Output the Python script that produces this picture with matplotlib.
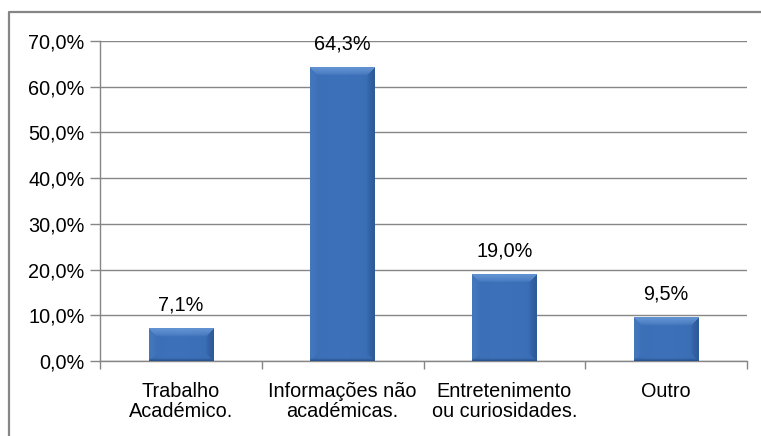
import numpy as np
import matplotlib
matplotlib.use("Agg")
import matplotlib.pyplot as plt
from matplotlib.lines import Line2D
from matplotlib.ticker import FuncFormatter, FixedLocator

# ── Data ──────────────────────────────────────────────────────────────────
CATEGORIES = ["Trabalho\nAcadémico.", "Informações não\nacadémicas.",
              "Entretenimento\nou curiosidades.", "Outro"]
VALUES = [7.1, 64.3, 19.0, 9.5]
Y_TICKS = [0, 10, 20, 30, 40, 50, 60, 70]

GRID = "#868686"
BASE = np.array([0x3A, 0x6D, 0xB3]) / 255
LIGHT = np.array([0x7A, 0xA8, 0xE2]) / 255
DARK = np.array([0x20, 0x44, 0x7A]) / 255
FS = 14.3

plt.rcParams["font.family"] = ["Liberation Sans", "DejaVu Sans"]

W, H, DPI = 761, 436, 100
fig = plt.figure(figsize=(W / DPI, H / DPI), dpi=DPI)

# outer chart frame (cropped at right and bottom)
fig.add_artist(Line2D([9 / W, 9 / W, 1], [0, 1 - 12 / H, 1 - 12 / H],
                      transform=fig.transFigure, color=GRID, lw=1.6))

ax = fig.add_axes([100 / W, (H - 361) / H, 647 / W, 320 / H])
ax.set_xlim(-0.5, len(CATEGORIES) - 0.5)
ax.set_ylim(0, 70)

ax.yaxis.set_major_locator(FixedLocator(Y_TICKS))
ax.yaxis.set_major_formatter(
    FuncFormatter(lambda v, _: f"{v:.1f}%".replace(".", ",")))
ax.grid(axis="y", color=GRID, lw=1.0)
ax.set_axisbelow(True)

ax.set_xticks(range(len(CATEGORIES)))
ax.set_xticklabels(CATEGORIES, fontsize=FS, color="black", linespacing=1.1)
ax.xaxis.set_minor_locator(FixedLocator(np.arange(-0.5, len(CATEGORIES), 1.0)))
ax.tick_params(axis="x", which="major", length=0, pad=15)
ax.tick_params(axis="x", which="minor", length=6, color=GRID, width=1.0)
ax.tick_params(axis="y", length=7, color=GRID, width=1.0, labelsize=FS,
               labelcolor="black", pad=4)

for s in ["top", "right"]:
    ax.spines[s].set_visible(False)
for s in ["left", "bottom"]:
    ax.spines[s].set_color(GRID)
    ax.spines[s].set_linewidth(1.0)

# ── Bevelled bars ─────────────────────────────────────────────────────────
bar_w = 0.4
bars = ax.bar(range(len(VALUES)), VALUES, width=bar_w, color="none",
              edgecolor="none", zorder=3)

px_per_x = 647 / len(CATEGORIES)
px_per_y = 320 / 70
for rect, v in zip(bars, VALUES):
    nx = int(round(bar_w * px_per_x))
    ny = max(int(round(v * px_per_y)), 2)
    xx = np.arange(nx)[None, :] + 0.5 + np.zeros((ny, 1))
    yy = np.arange(ny)[:, None] + 0.5 + np.zeros((1, nx))  # row 0 = top
    bev = 7.0
    dt, dl, dr, db = yy, xx, nx - xx, ny - yy
    dmin = np.minimum.reduce([dt, dl, dr, db])
    fall = np.clip(1.15 - dmin / bev, 0, 1) ** 0.6
    top = np.where(dt == dmin, fall, 0.0)
    left = np.where((dl == dmin) & (dt != dmin), fall, 0.0)
    right = np.where((dr == dmin) & (dt != dmin), fall, 0.0)
    bottom = np.clip(1 - db / 3.0, 0, 1)
    shade = 1.0 + 0.04 * np.cos((xx / nx - 0.45) * np.pi)
    img = np.tile(BASE, (ny, nx, 1)) * shade[..., None]
    img = img + (LIGHT - img) * (top * 0.6 + left * 0.15)[..., None]
    img = img + (DARK - img) * np.maximum(right * 0.45, bottom * 0.75)[..., None]
    img = np.clip(img, 0, 1)
    x0 = rect.get_x()
    ax.imshow(img, extent=[x0, x0 + rect.get_width(), 0, v], aspect="auto",
              interpolation="bilinear", zorder=3)
    ax.annotate(f"{v:.1f}%".replace(".", ","), (rect.get_x() + bar_w / 2, v),
                xytext=(0, 10), textcoords="offset points", ha="center",
                va="bottom", fontsize=FS, color="black")

ax.set_xlim(-0.5, len(CATEGORIES) - 0.5)
ax.set_ylim(0, 70)

fig.savefig("out.png", dpi=DPI, facecolor="white")
